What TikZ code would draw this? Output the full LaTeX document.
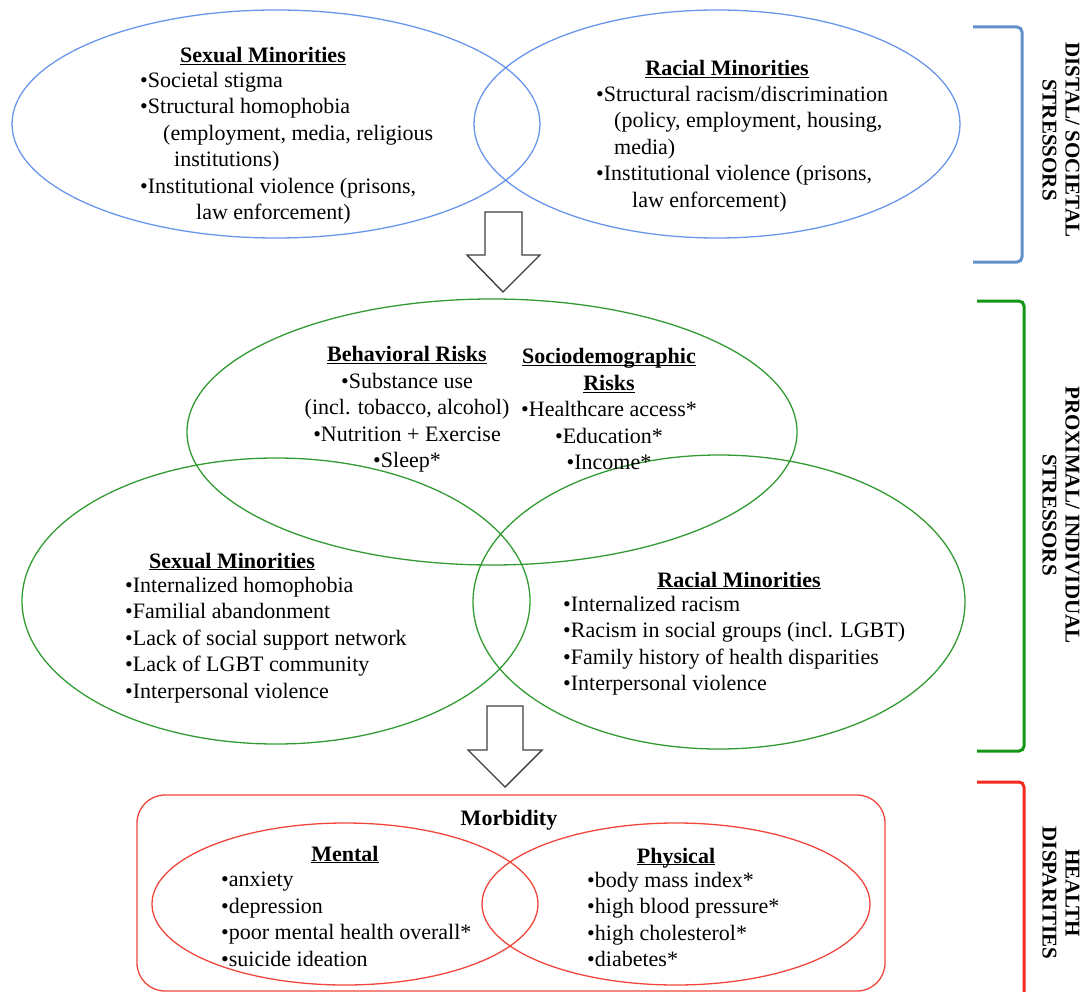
\documentclass[tikz,border=0pt]{standalone}
\usepackage{fontspec}
\setmainfont{Liberation Serif}
\usepackage{tikz}

\definecolor{distal}{RGB}{105,150,235}
\definecolor{distalbr}{RGB}{95,145,200}
\definecolor{proximal}{RGB}{50,155,50}
\definecolor{proximalbr}{RGB}{20,150,20}
\definecolor{health}{RGB}{240,70,60}
\definecolor{healthbr}{RGB}{245,40,30}

\newcommand{\bodyfont}{\fontsize{22}{26.5}\selectfont}
\tikzset{
  txt/.style={align=left, anchor=north west, inner sep=0pt, text=black, font=\bodyfont},
  head/.style={align=center, inner sep=0pt, text=black, font=\bodyfont\bfseries},
  side/.style={align=center, inner sep=0pt, rotate=-90, font=\fontsize{21}{23}\selectfont\bfseries},
  blockarrow/.style={draw=black!75, fill=white, line width=1.4pt, line join=miter},
  bracket/.style={line width=3pt, rounded corners=5pt}
}
\newcommand{\hd}[1]{\underline{\smash{#1}}}

\begin{document}
\begin{tikzpicture}[x=1pt, y=-1pt]
  \useasboundingbox (0,0) rectangle (1091,992);

  % distal / societal
  \draw[distal, line width=1.3pt] (276,124) ellipse [x radius=264, y radius=114]
                                  (717,124) ellipse [x radius=243, y radius=114];
  \node[head] (dsexh) at (263,64) {\hd{Sexual Minorities}};
  \node[txt] (dsex) at (140,72) {%
    •Societal stigma\\
    •Structural homophobia\\
    \hspace*{23pt}(employment, media, religious\\
    \hspace*{34pt}institutions)\\
    •Institutional violence (prisons,\\
    \hspace*{56pt}law enforcement)};
  \node[head] (draceh) at (727,77) {\hd{Racial Minorities}};
  \node[txt] (drace) at (596,86) {%
    •Structural racism/discrimination\\
    \hspace*{18pt}(policy, employment, housing,\\
    \hspace*{18pt}media)\\
    •Institutional violence (prisons,\\
    \hspace*{36pt}law enforcement)};

  \draw[blockarrow] (485,212) -- (522,212) -- (522,255) -- (540,255) -- (503,292)
                    -- (467,255) -- (485,255) -- cycle;

  % proximal / individual
  \draw[proximal, line width=1.3pt] (492,432) ellipse [x radius=305, y radius=133]
                                    (276,601) ellipse [x radius=254, y radius=143]
                                    (719,602) ellipse [x radius=246, y radius=147];
  \node[head, font=\bodyfont] (behav) at (407,417) {%
    \textbf{\hd{Behavioral Risks}}\\
    •Substance use\\
    (incl. tobacco, alcohol)\\
    •Nutrition + Exercise\\
    •Sleep*};
  \node[head, font=\bodyfont] (socio) at (609,417) {%
    \textbf{\hd{Sociodemographic}}\\
    \textbf{\hd{Risks}}\\
    •Healthcare access*\\
    •Education*\\
    •Income*};
  \node[head] (psexh) at (232,569) {\hd{Sexual Minorities}};
  \node[txt] (psex) at (125,577) {%
    •Internalized homophobia\\
    •Familial abandonment\\
    •Lack of social support network\\
    •Lack of LGBT community\\
    •Interpersonal violence};
  \node[head] (praceh) at (739,588) {\hd{Racial Minorities}};
  \node[txt] (prace) at (563,596) {%
    •Internalized racism\\
    •Racism in social groups (incl. LGBT)\\
    •Family history of health disparities\\
    •Interpersonal violence};

  \draw[blockarrow] (487,706) -- (523,706) -- (523,750) -- (542,750) -- (505,787)
                    -- (468,750) -- (487,750) -- cycle;

  % health disparities
  \draw[health, line width=1.3pt, rounded corners=28pt] (137,795) rectangle (885,991);
  \draw[health, line width=1.3pt] (345,904) ellipse [x radius=193, y radius=81]
                                  (676,904) ellipse [x radius=194, y radius=81];
  \node[head] (morb) at (509,820) {Morbidity};
  \node[head] (menth) at (345,862) {\hd{Mental}};
  \node[txt] (ment) at (221,872) {%
    •anxiety\\
    •depression\\
    •poor mental health overall*\\
    •suicide ideation};
  \node[head] (physh) at (676,864) {\hd{Physical}};
  \node[txt] (phys) at (587,872) {%
    •body mass index*\\
    •high blood pressure*\\
    •high cholesterol*\\
    •diabetes*};

  % brackets
  \draw[bracket, distalbr] (973,27) -- (1022,27) -- (1022,262) -- (973,262);
  \draw[bracket, proximalbr] (977,301) -- (1024,301) -- (1024,751) -- (977,751);
  \draw[bracket, healthbr] (977,782) -- (1024,782) -- (1024,992);
  \node[side] (distlab) at (1061,140) {DISTAL/ SOCIETAL\\STRESSORS};
  \node[side] (proxlab) at (1061,515) {PROXIMAL/ INDIVIDUAL\\STRESSORS};
  \node[side] (healthlab) at (1061,893) {HEALTH\\DISPARITIES};
\end{tikzpicture}
\end{document}
